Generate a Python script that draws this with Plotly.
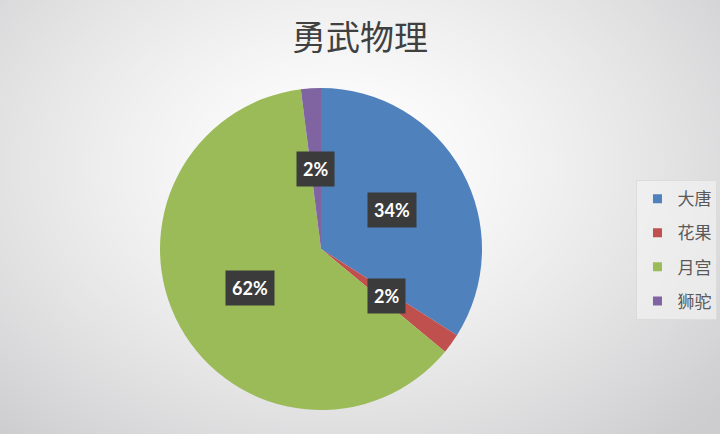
import numpy as np
import plotly.graph_objects as go

# chart data
labels = ["大唐", "花果", "月宫", "狮驼"]
values = [34, 2, 62, 2]
colors = ["#4f81bd", "#c0504d", "#9bbb59", "#8064a2"]
title_text = "勇武物理"

W, H = 720, 434
# pie centre and radius in pixels
cx_px, cy_px, rad_px = 321, 249, 161

fig = go.Figure()

# soft radial background like the Excel chart area
gx = np.linspace(0, 1, 30)
gy = np.linspace(0, 1, 20)
XX, YY = np.meshgrid(gx, gy)
dist = np.sqrt(((XX - 0.47) / 0.62) ** 2 + ((YY - 0.62) / 0.75) ** 2)
shade = np.clip(1 - 0.85 * dist ** 1.4, 0, 1)
fig.add_trace(go.Heatmap(x=gx, y=gy, z=shade, zsmooth="best", zmin=0, zmax=1,
                         colorscale=[[0, "#cdcdcf"], [1, "#ffffff"]],
                         showscale=False, hoverinfo="skip"))

fig.add_trace(go.Pie(
    labels=labels, values=values, sort=False, direction="clockwise", rotation=0,
    marker=dict(colors=colors, line=dict(width=0)),
    textinfo="none", showlegend=False,
    domain=dict(x=[(cx_px - rad_px) / W, (cx_px + rad_px) / W],
                y=[1 - (cy_px + rad_px) / H, 1 - (cy_px - rad_px) / H]),
))

# legend entries, one group each so the rows get Excel-like spacing
for lab, col in zip(labels, colors):
    fig.add_trace(go.Scatter(x=[None], y=[None], mode="markers", name=lab,
                             legendgroup=lab,
                             marker=dict(symbol="square", size=9, color=col)))

# percentage labels in dark boxes, placed at the middle of each slice
total = sum(values)
start = 0.0
for v in values:
    mid = (start + v / 2) / total * 2 * np.pi
    start += v
    r = 0.5 * rad_px
    fig.add_annotation(
        x=(cx_px + r * np.sin(mid)) / W, y=1 - (cy_px - r * np.cos(mid)) / H,
        xref="paper", yref="paper", xanchor="center", yanchor="middle",
        showarrow=False,
        text="<b>%d%%</b>" % round(v / total * 100),
        font=dict(family="Lato", size=18, color="white"),
        bgcolor="#3b3b3b", borderpad=6,
    )

fig.update_layout(
    width=W, height=H,
    margin=dict(l=0, r=0, t=0, b=0),
    paper_bgcolor="#e2e2e4", plot_bgcolor="#e2e2e4",
    xaxis=dict(visible=False, range=[0, 1], domain=[0, 1], fixedrange=True),
    yaxis=dict(visible=False, range=[0, 1], domain=[0, 1], fixedrange=True),
    title=dict(text=title_text, x=0.5, xanchor="center", y=0.912, yanchor="middle",
               font=dict(family="Noto Sans CJK SC", size=34, color="#404040")),
    legend=dict(x=0.884, y=0.585, xanchor="left", yanchor="top",
                bgcolor="rgba(245,245,245,0.6)", bordercolor="#dcdcdc", borderwidth=1,
                font=dict(family="Noto Sans CJK SC", size=17, color="#595959"),
                tracegroupgap=9, itemwidth=30),
)

# drop the default page margin so the figure sits flush in the window
fig.write_html("out.html", config={"displayModeBar": False},
               post_script="document.body.style.margin='0';")
